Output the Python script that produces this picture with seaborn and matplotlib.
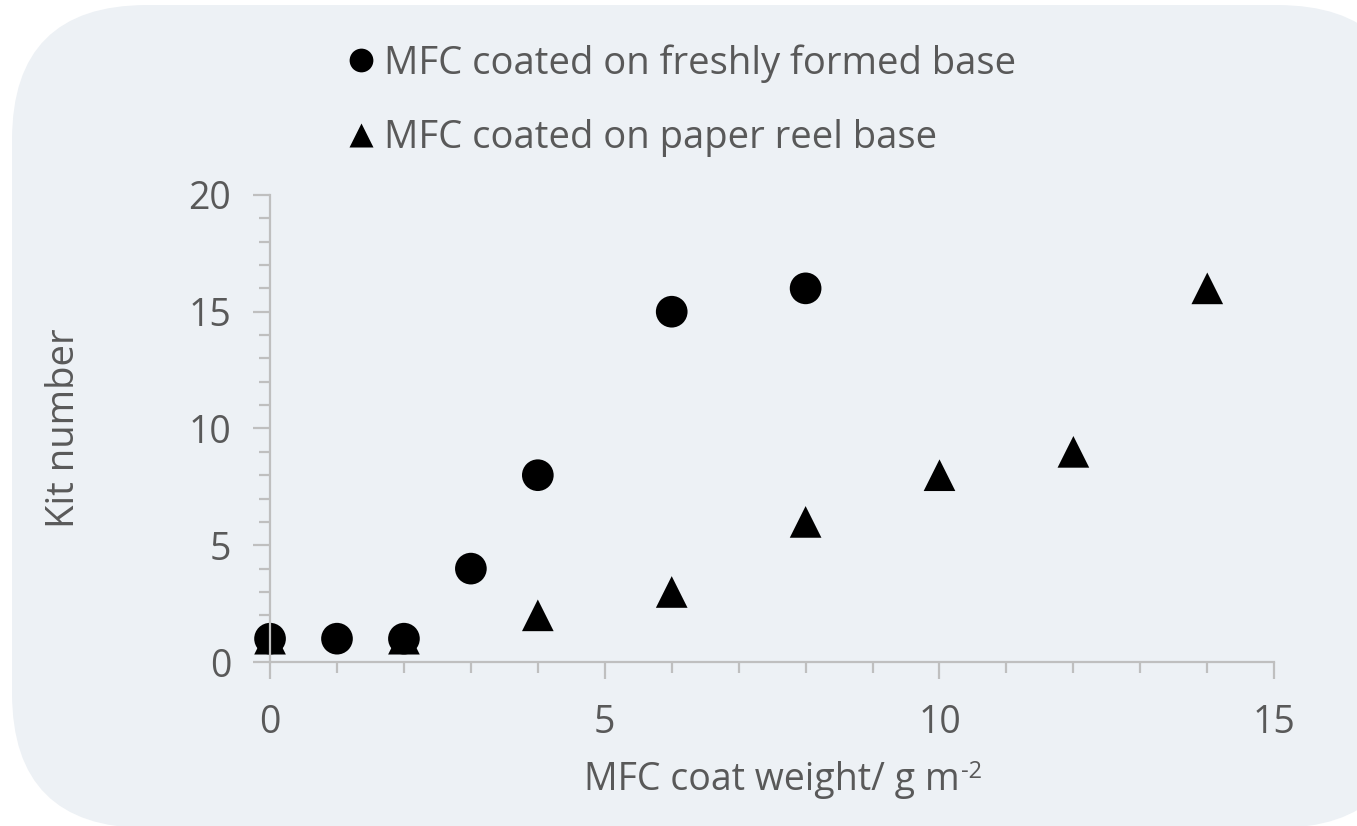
import matplotlib
matplotlib.use("Agg")
import matplotlib.pyplot as plt
from matplotlib.patches import FancyBboxPatch
from matplotlib.transforms import IdentityTransform
from matplotlib.ticker import MultipleLocator
import seaborn as sns
import pandas as pd

# data
fresh_x = [0, 1, 2, 3, 4, 6, 8]
fresh_y = [1, 1, 1, 4, 8, 15, 16]
reel_x = [0, 2, 4, 6, 8, 10, 12, 14]
reel_y = [1, 1, 2, 3, 6, 8, 9, 16]
series_names = ["MFC coated on freshly formed base", "MFC coated on paper reel base"]

df = pd.concat([
    pd.DataFrame({"x": fresh_x, "y": fresh_y, "series": series_names[0]}),
    pd.DataFrame({"x": reel_x, "y": reel_y, "series": series_names[1]}),
], ignore_index=True)

sns.set_style("white")
plt.rcParams["font.family"] = ["Open Sans", "DejaVu Sans"]

grey = "#595959"
axis_col = "#bfbfbf"
bg = "#edf1f5"

fig = plt.figure(figsize=(13.57, 8.26), dpi=100, facecolor="white")
# rounded background panel, in pixel units
box = FancyBboxPatch((12, -2), 1400, 823,
                     boxstyle="round,pad=0,rounding_size=135",
                     transform=IdentityTransform(), facecolor=bg,
                     edgecolor="none", zorder=-10)
fig.patches.append(box)

ax = fig.add_axes([0.199, 0.1985, 0.74, 0.5655])
ax.set_facecolor("none")

sns.scatterplot(data=df, x="x", y="y", style="series", markers=["o", "^"],
                color="black", s=520, edgecolor="none", ax=ax, clip_on=False,
                legend=True)

ax.set_xlim(0, 15)
ax.set_ylim(0, 20)
ax.xaxis.set_major_locator(MultipleLocator(5))
ax.xaxis.set_minor_locator(MultipleLocator(1))
ax.yaxis.set_major_locator(MultipleLocator(5))
ax.yaxis.set_minor_locator(MultipleLocator(1))

for side in ["top", "right"]:
    ax.spines[side].set_visible(False)
for side in ["left", "bottom"]:
    ax.spines[side].set_color(axis_col)
    ax.spines[side].set_linewidth(1.6)

ax.tick_params(axis="both", which="both", bottom=True, left=True,
               direction="out", color=axis_col, width=1.6)
ax.tick_params(axis="both", which="major", length=12, labelsize=27,
               labelcolor=grey)
ax.tick_params(axis="both", which="minor", length=8)
ax.tick_params(axis="x", which="major", pad=18)
ax.tick_params(axis="y", which="major", pad=16)

ax.set_xlabel("MFC coat weight/ g m", fontsize=27, color=grey, labelpad=14)
ax.set_ylabel("Kit number", fontsize=27.5, color=grey, labelpad=76)
ax.annotate("-2", xy=(1, 1), xycoords=ax.xaxis.label, xytext=(1, 1),
            textcoords="offset points", fontsize=17, color=grey,
            ha="left", va="top")

leg = ax.legend(loc="upper left", bbox_to_anchor=(0.245, 0.965),
                bbox_transform=fig.transFigure, frameon=False, fontsize=27.5,
                handlelength=0.7, handletextpad=0.25, labelspacing=0.95,
                markerscale=0.75, borderaxespad=0, title=None)
for t in leg.get_texts():
    t.set_color(grey)

fig.savefig("out.png", dpi=100, facecolor="white")
